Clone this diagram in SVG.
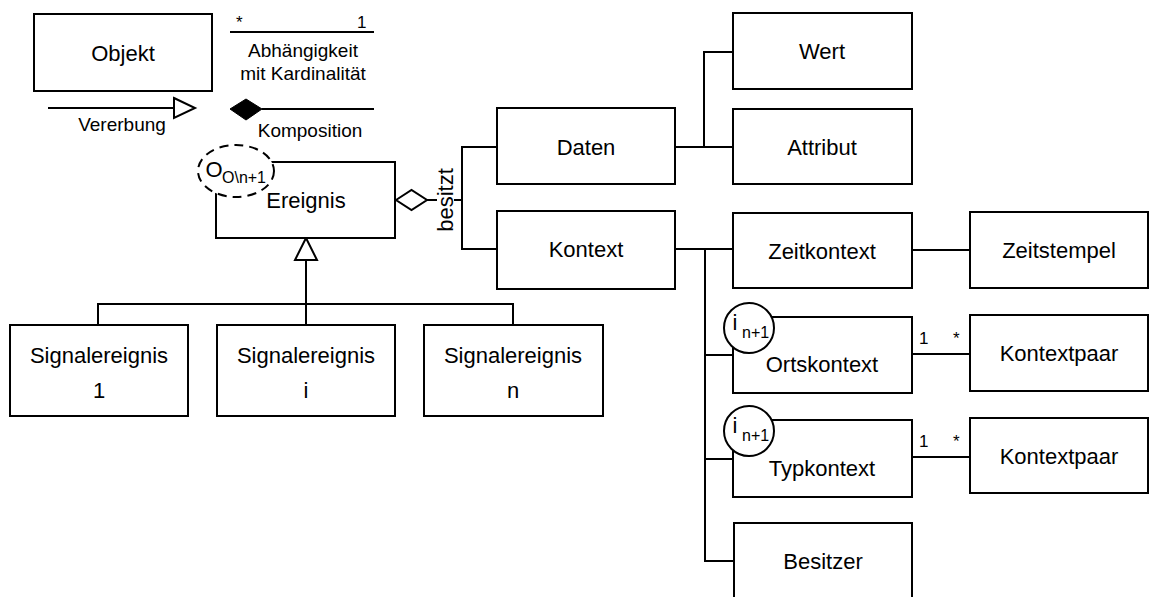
<svg xmlns="http://www.w3.org/2000/svg" width="1150" height="597" viewBox="0 0 1150 597">
  <style>
    .box { fill: #ffffff; stroke: #000000; stroke-width: 2; }
    .ln { fill: none; stroke: #000000; stroke-width: 2; }
    .t { font-family: "Liberation Sans", Arial, sans-serif; font-size: 22px; fill: #000000; text-anchor: middle; }
    .s { font-family: "Liberation Sans", Arial, sans-serif; font-size: 19px; fill: #000000; text-anchor: middle; }
    .m { font-family: "Liberation Sans", Arial, sans-serif; font-size: 17px; fill: #000000; }
    .sub { font-family: "Liberation Sans", Arial, sans-serif; font-size: 16px; fill: #000000; }
  </style>
  <rect width="1150" height="597" fill="#ffffff"/>

  <!-- legend -->
  <g id="legend">
    <rect class="box" x="34" y="14" width="178" height="77"/>
    <text class="t" x="123" y="61">Objekt</text>
    <line class="ln" x1="230" y1="32" x2="374" y2="32"/>
    <text class="m" x="236" y="28">*</text>
    <text class="m" x="357" y="28">1</text>
    <text class="s" x="303" y="57">Abhängigkeit</text>
    <text class="s" x="303" y="80">mit Kardinalität</text>
    <line class="ln" x1="48" y1="108" x2="174" y2="108"/>
    <polygon class="ln" points="174,98 195,108 174,118" fill="#ffffff"/>
    <text class="s" x="122" y="131">Vererbung</text>
    <polygon points="230,109 246,99 262,109 246,120" fill="#000000" stroke="#000000" stroke-width="1"/>
    <line class="ln" x1="262" y1="109" x2="374" y2="109"/>
    <text class="s" x="310" y="137">Komposition</text>
  </g>

  <!-- connectors -->
  <g id="connectors">
    <!-- generalization Ereignis <- Signalereignis -->
    <line class="ln" x1="306" y1="260" x2="306" y2="325" stroke-width="3"/>
    <polyline class="ln" points="98,325 98,304 513,304 513,325"/>
    <polygon class="ln" points="306,238 317,260 295,260" fill="#ffffff"/>
    <!-- aggregation Ereignis -> Daten / Kontext -->
    <polygon class="ln" points="396,200 411.5,190 427,200 411.5,210" fill="#ffffff"/>
    <line class="ln" x1="427" y1="200" x2="462" y2="200"/>
    <polyline class="ln" points="497,147 462,147 462,249 497,249"/>
    <rect x="437" y="167" width="17" height="66" fill="#ffffff"/>
    <text class="t" transform="translate(453,200) rotate(-90)">besitzt</text>
    <!-- Daten -> Wert / Attribut -->
    <line class="ln" x1="675" y1="147" x2="733" y2="147"/>
    <polyline class="ln" points="704,147 704,52 733,52"/>
    <!-- Kontext -> sub-contexts -->
    <line class="ln" x1="675" y1="249" x2="733" y2="249"/>
    <polyline class="ln" points="705,249 705,561 734,561"/>
    <line class="ln" x1="705" y1="355" x2="733" y2="355"/>
    <line class="ln" x1="705" y1="459" x2="733" y2="459"/>
    <!-- Zeitkontext -> Zeitstempel -->
    <line class="ln" x1="912" y1="250" x2="970" y2="250"/>
    <!-- Ortskontext -> Kontextpaar -->
    <line class="ln" x1="912" y1="354" x2="970" y2="354"/>
    <text class="m" x="919" y="344">1</text>
    <text class="m" x="953" y="344">*</text>
    <!-- Typkontext -> Kontextpaar -->
    <line class="ln" x1="912" y1="457" x2="970" y2="457"/>
    <text class="m" x="919" y="447">1</text>
    <text class="m" x="953" y="447">*</text>
  </g>

  <g id="ereignis">
    <rect class="box" x="216" y="162" width="179" height="76"/>
    <ellipse cx="236" cy="171" rx="38" ry="26" fill="#ffffff" stroke="#000000" stroke-width="2" stroke-dasharray="9,6"/>
    <text class="t" x="214" y="177" font-size="20">O</text>
    <text class="sub" x="244" y="183" text-anchor="middle">O\n+1</text>
    <text class="t" x="306" y="208">Ereignis</text>
  </g>

  <g id="signalereignis1">
    <rect class="box" x="10" y="325" width="178" height="91"/>
    <text class="t" x="99" y="363">Signalereignis</text>
    <text class="t" x="99" y="398">1</text>
  </g>
  <g id="signalereignisi">
    <rect class="box" x="217" y="325" width="178" height="91"/>
    <text class="t" x="306" y="363">Signalereignis</text>
    <text class="t" x="306" y="398">i</text>
  </g>
  <g id="signalereignisn">
    <rect class="box" x="424" y="325" width="179" height="91"/>
    <text class="t" x="513" y="363">Signalereignis</text>
    <text class="t" x="513" y="398">n</text>
  </g>

  <g id="daten">
    <rect class="box" x="497" y="108" width="178" height="76"/>
    <text class="t" x="586" y="155">Daten</text>
  </g>
  <g id="kontext">
    <rect class="box" x="497" y="211" width="178" height="78"/>
    <text class="t" x="586" y="257">Kontext</text>
  </g>

  <g id="wert">
    <rect class="box" x="733" y="13" width="179" height="76"/>
    <text class="t" x="822" y="59">Wert</text>
  </g>
  <g id="attribut">
    <rect class="box" x="733" y="109" width="179" height="75"/>
    <text class="t" x="822" y="155">Attribut</text>
  </g>
  <g id="zeitkontext">
    <rect class="box" x="733" y="213" width="179" height="75"/>
    <text class="t" x="822" y="259">Zeitkontext</text>
  </g>
  <g id="zeitstempel">
    <rect class="box" x="970" y="212" width="178" height="76"/>
    <text class="t" x="1059" y="258">Zeitstempel</text>
  </g>

  <g id="ortskontext">
    <rect class="box" x="733" y="317" width="179" height="76"/>
    <circle cx="749" cy="328" r="25" fill="#ffffff" stroke="#000000" stroke-width="2"/>
    <text class="t" x="735" y="330" text-anchor="start" font-size="24">i</text>
    <text class="sub" x="742" y="338">n+1</text>
    <text class="t" x="822" y="372">Ortskontext</text>
  </g>
  <g id="kontextpaar1">
    <rect class="box" x="970" y="315" width="178" height="76"/>
    <text class="t" x="1059" y="361">Kontextpaar</text>
  </g>

  <g id="typkontext">
    <rect class="box" x="733" y="420" width="179" height="77"/>
    <circle cx="749" cy="431" r="25" fill="#ffffff" stroke="#000000" stroke-width="2"/>
    <text class="t" x="735" y="433" text-anchor="start" font-size="24">i</text>
    <text class="sub" x="742" y="441">n+1</text>
    <text class="t" x="822" y="476">Typkontext</text>
  </g>
  <g id="kontextpaar2">
    <rect class="box" x="970" y="418" width="178" height="75"/>
    <text class="t" x="1059" y="464">Kontextpaar</text>
  </g>

  <g id="besitzer">
    <rect class="box" x="734" y="523" width="178" height="90"/>
    <text class="t" x="823" y="569">Besitzer</text>
  </g>
</svg>
